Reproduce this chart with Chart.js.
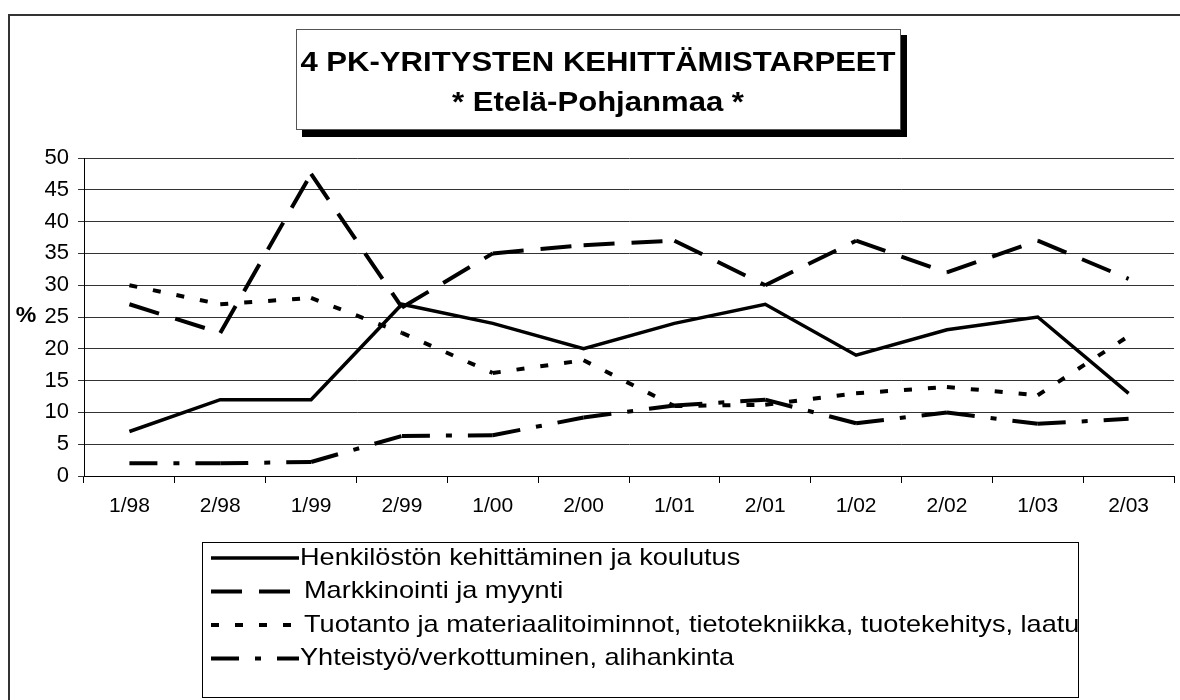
<!DOCTYPE html>
<html>
<head>
<meta charset="utf-8">
<script src="https://cdn.jsdelivr.net/npm/chart.js@4.4.0/dist/chart.umd.min.js"></script>
<style>
html,body{margin:0;padding:0;background:#fff;}
#wrap{width:1180px;height:700px;position:relative;}
</style>
</head>
<body>
<div id="wrap"><canvas id="myChart" width="1180" height="700"></canvas></div>
<script>
// kaudet (puolivuosittain)
const jaksot = ["1/98","2/98","1/99","2/99","1/00","2/00","1/01","2/01","1/02","2/02","1/03","2/03"]

const henkilosto = [7, 12, 12, 27, 24, 20, 24, 27, 19, 23, 25, 13]
const markkinointi = [27, 22.5, 47.5, 26.5, 35, 36.3, 37, 30, 37, 32, 37, 31]
const tuotanto = [30, 27, 28, 22.5, 16.2, 18.2, 11, 11.2, 13, 14, 12.7, 22]
const yhteistyo = [2, 2, 2.2, 6.3, 6.4, 9.2, 11.1, 12, 8.3, 10, 8.2, 9]

const sarjojen_nimet = [
    "Henkilöstön kehittäminen ja koulutus",
    "Markkinointi ja myynti",
    "Tuotanto ja materiaalitoiminnot, tietotekniikka, tuotekehitys, laatu",
    "Yhteistyö/verkottuminen, alihankinta"
]
const otsikko = ["4 PK-YRITYSTEN KEHITTÄMISTARPEET", "* Etelä-Pohjanmaa *"]

const fontti = '"Liberation Sans", Arial, sans-serif'

// venytetty teksti (alkuperäinen kuva on leveyssuunnassa venytetty)
function venytettyTeksti(ctx, teksti, x, y, sx){
    ctx.save()
    ctx.translate(x, y)
    ctx.scale(sx, 1)
    ctx.fillText(teksti, 0, 0)
    ctx.restore()
}

// Excelin tapaan katkoviivan kuvio alkaa alusta joka pisteessä:
// pieni ero tyylissä pakottaa Chart.js:n piirtämään jokaisen välin erikseen
const uusiKuvio = { borderDashOffset: c => (c.p0DataIndex % 2) * 0.001 }

const koristeet = {
    id: "koristeet",
    beforeDraw(chart){
        const ctx = chart.ctx
        ctx.save()
        ctx.fillStyle = "#fff"
        ctx.fillRect(0, 0, chart.width, chart.height)
        // ulkokehys
        ctx.strokeStyle = "#333"
        ctx.lineWidth = 2
        ctx.strokeRect(9, 15, 1200, 720)
        ctx.restore()
    },
    afterDraw(chart){
        const ctx = chart.ctx
        ctx.save()
        // otsikkolaatikko varjoineen
        ctx.fillStyle = "#000"
        ctx.fillRect(302, 35, 605, 102)
        ctx.fillStyle = "#fff"
        ctx.fillRect(296, 29, 605, 101)
        ctx.strokeStyle = "#555"
        ctx.lineWidth = 1
        ctx.strokeRect(296.5, 29.5, 604, 100)
        ctx.fillStyle = "#000"
        ctx.textAlign = "center"
        ctx.textBaseline = "middle"
        ctx.font = "bold 28px " + fontti
        venytettyTeksti(ctx, otsikko[0], 598, 63, 1.11)
        venytettyTeksti(ctx, otsikko[1], 598, 103, 1.11)

        // %-merkki
        ctx.font = "bold 22px " + fontti
        venytettyTeksti(ctx, "%", 26, 316, 1.05)

        // selite
        ctx.strokeStyle = "#000"
        ctx.lineWidth = 1
        ctx.strokeRect(202.5, 542.5, 876, 155)
        ctx.textAlign = "left"
        ctx.font = "24px " + fontti
        chart.data.datasets.forEach((ds, i) => {
            const y = 558 + i * 33.5
            ctx.save()
            ctx.strokeStyle = ds.borderColor
            ctx.lineWidth = ds.borderWidth
            ctx.setLineDash(ds.borderDash || [])
            ctx.beginPath()
            ctx.moveTo(211, y)
            ctx.lineTo(299, y)
            ctx.stroke()
            ctx.restore()
            ctx.fillStyle = "#000"
            venytettyTeksti(ctx, ds.label, i == 0 || i == 3 ? 300 : 304, y, 1.13)
        })
        ctx.restore()
    }
}

const config = {
    type: "line",
    data: {
        labels: jaksot,
        datasets: [
            { label: sarjojen_nimet[0], data: henkilosto, borderColor: "#000", borderWidth: 3.5, borderDash: [] },
            { label: sarjojen_nimet[1], data: markkinointi, borderColor: "#000", borderWidth: 4, borderDash: [31, 17], segment: uusiKuvio },
            { label: sarjojen_nimet[2], data: tuotanto, borderColor: "#000", borderWidth: 4, borderDash: [8, 16], segment: uusiKuvio },
            { label: sarjojen_nimet[3], data: yhteistyo, borderColor: "#000", borderWidth: 4, borderDash: [28, 16, 6, 16], segment: uusiKuvio }
        ]
    },
    options: {
        responsive: false,
        animation: false,
        devicePixelRatio: 1,
        layout: { padding: { top: 158, left: 0, right: 6, bottom: 0 } },
        elements: {
            point: { radius: 0 },
            line: { tension: 0, borderCapStyle: "butt", borderJoinStyle: "miter" }
        },
        plugins: {
            legend: { display: false },
            tooltip: { enabled: false },
            title: { display: false }
        },
        scales: {
            x: {
                offset: true,
                afterFit(axis){ axis.height = 224 },
                border: { display: true, color: "#000", width: 1 },
                grid: { offset: true, drawOnChartArea: false, drawTicks: true, tickLength: 7, color: "#000" },
                ticks: { color: "#000", font: { family: fontti, size: 21 }, padding: 11, maxRotation: 0, autoSkip: false }
            },
            y: {
                min: 0,
                max: 50,
                afterFit(axis){ axis.width = 84 },
                border: { display: true, color: "#000", width: 1 },
                grid: { color: "#333", lineWidth: 1, tickLength: 6, drawTicks: true },
                ticks: { stepSize: 5, color: "#000", font: { family: fontti, size: 22 }, padding: 9 }
            }
        }
    },
    plugins: [koristeet]
}

const chartDOM = document.getElementById("myChart")
window.grafica = new Chart(chartDOM, config)
</script>
</body>
</html>
